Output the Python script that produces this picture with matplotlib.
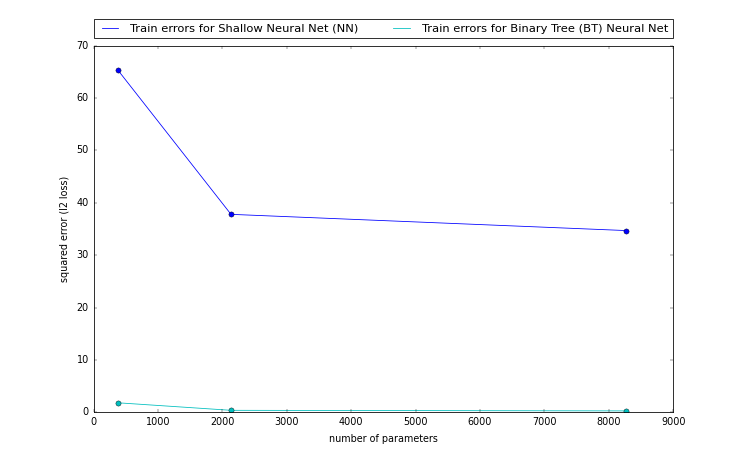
import matplotlib
matplotlib.use("Agg")
import matplotlib.pyplot as plt

plt.style.use('classic')

params = [376, 2135, 8270]
nn_errors = [65.4, 37.8, 34.7]
bt_errors = [1.8, 0.36, 0.25]
nn_label = "Train errors for Shallow Neural Net (NN)"
bt_label = "Train errors for Binary Tree (BT) Neural Net"

s = 0.575  # scale factor of the original rendering
plt.rcParams.update({
    'font.size': 12 * s,
    'lines.linewidth': 1.0 * s,
    'lines.markersize': 6.5 * s,
    'axes.linewidth': 1.0 * s,
    'xtick.major.size': 4 * s,
    'ytick.major.size': 4 * s,
    'xtick.major.width': 0.5 * s,
    'ytick.major.width': 0.5 * s,
    'xtick.major.pad': 6 * s,
    'ytick.major.pad': 6 * s,
    'legend.fontsize': 14.4 * s,
    'patch.linewidth': 1.0 * s,
    'lines.markeredgewidth': 0.5 * s,
})

fig = plt.figure(figsize=(7.48, 4.58), dpi=100)
ax = fig.add_subplot(111)
ax.plot(params, nn_errors, 'b', label=nn_label)
ax.plot(params, bt_errors, 'c', label=bt_label)
ax.plot(params, nn_errors, 'bo')
ax.plot(params, bt_errors, 'co')
ax.set_xlim(0, 9000)
ax.set_ylim(0, 70)
ax.set_xlabel("number of parameters")
ax.set_ylabel("squared error (l2 loss)")
ax.legend(bbox_to_anchor=(0., 1.02, 1., .102), loc=3, ncol=2, mode="expand",
          borderaxespad=0.)
fig.savefig("out.png", dpi=100)
